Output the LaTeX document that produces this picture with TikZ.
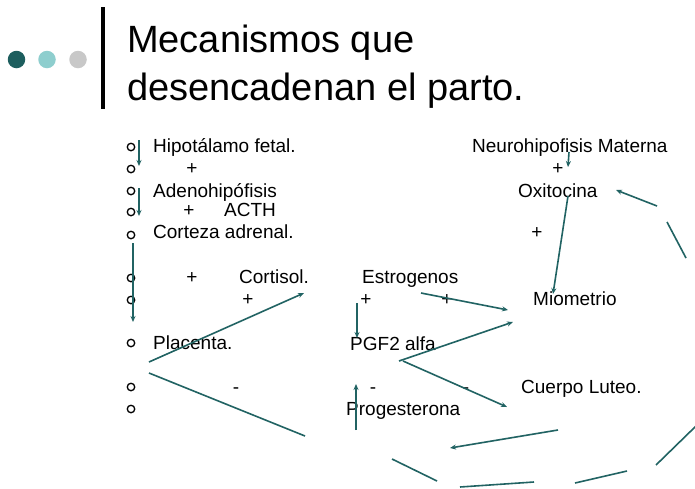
\documentclass[tikz,border=0pt]{standalone}
\usepackage{fontspec}
\setmainfont{Liberation Sans}
\usetikzlibrary{arrows.meta}
\definecolor{darkteal}{HTML}{1D5E5E}
\definecolor{lightteal}{HTML}{8ECECE}
\definecolor{lightgrey}{HTML}{C8C8C8}
\definecolor{linkc}{HTML}{216363}
\begin{document}
\begin{tikzpicture}[x=1pt,y=-1pt,
  body/.style={anchor=base west, inner sep=0pt, font=\fontsize{19}{22}\selectfont},
  sign/.style={anchor=base, inner sep=0pt, font=\fontsize{19}{22}\selectfont},
  titletext/.style={anchor=base west, inner sep=0pt, font=\fontsize{38}{44}\selectfont},
  bulletmark/.style={circle, draw=black, line width=1.3pt, minimum size=7.5pt, inner sep=0pt},
  link/.style={draw=linkc, line width=1.6pt, -{Stealth[length=6pt,width=5pt]}},
  plainlink/.style={draw=linkc, line width=1.6pt},
  dot/.style={circle, minimum size=17.5pt, inner sep=0pt}
]
\useasboundingbox[fill=white] (0,0) rectangle (695,488);

% header
\node[dot, fill=darkteal] (d1) at (16.5,59.5) {};
\node[dot, fill=lightteal] (d2) at (47,59.5) {};
\node[dot, fill=lightgrey] (d3) at (78,59.5) {};
\coordinate (bartop) at (103,7);
\coordinate (barbot) at (103,109);
\draw[line width=3.2pt, black] (bartop) -- (barbot);
\node[titletext] (t1) at (127,52) {Mecanismos que};
\node[titletext] (t2) at (127,100) {desencadenan el parto.};

% bullets
\foreach \yy [count=\i] in {147,169,191,212,235,278,300,343,387,409}
  \node[bulletmark] (b\i) at (131,\yy) {};

% left column text
\node[body] (hipo) at (153,152) {Hipotálamo fetal.};
\node[sign] (p1) at (192,174) {+};
\node[body] (adeno) at (153,197) {Adenohipófisis};
\node[sign] (p2) at (189,216) {+};
\node[body] (acth) at (224,216) {ACTH};
\node[body] (corteza) at (153,238) {Corteza adrenal.};
\node[sign] (p3) at (192,283) {+};
\node[body] (cortisol) at (239,283) {Cortisol.};
\node[sign] (p4) at (248,305) {+};
\node[body] (placenta) at (153,349) {Placenta.};
\node[sign] (m1) at (236,393) {-};

% middle column
\node[body] (estro) at (362,283) {Estrogenos};
\node[sign] (p5) at (366,305) {+};
\node[sign] (p6) at (447,305) {+};
\node[body] (pgf) at (350,350) {PGF2 alfa};
\node[sign] (m2) at (373,393) {-};
\node[sign] (m3) at (466,393) {-};
\node[body] (proges) at (346,415) {Progesterona};

% right column
\node[body] (neuro) at (472,152) {Neurohipofisis Materna};
\node[sign] (p7) at (558,174) {+};
\node[body] (oxi) at (518,197) {Oxitocina};
\node[sign] (p8) at (537,238) {+};
\node[body] (mio) at (533,305) {Miometrio};
\node[body] (luteo) at (521,393) {Cuerpo Luteo.};

% connector end points
\coordinate (a1s) at (139,140); \coordinate (a1e) at (139,166);
\coordinate (a2s) at (139,188); \coordinate (a2e) at (139,216);
\coordinate (a3s) at (133,243); \coordinate (a3e) at (133,322);
\coordinate (a4s) at (149,362); \coordinate (a4e) at (304,293);
\coordinate (l5s) at (149,373); \coordinate (l5e) at (305,436);
\coordinate (a6s) at (357,303); \coordinate (a6e) at (357,338);
\coordinate (a7s) at (356,430); \coordinate (a7e) at (356,384);
\coordinate (a8s) at (421,293); \coordinate (a8e) at (508,310);
\coordinate (a9s) at (399,361); \coordinate (a9e) at (513,322);
\coordinate (a10s) at (403,361); \coordinate (a10e) at (507,407);
\coordinate (a11s) at (569,152); \coordinate (a11e) at (568,167);
\coordinate (a12s) at (568,196); \coordinate (a12e) at (553,294);
\coordinate (a13s) at (657,206); \coordinate (a13e) at (616,190);
\coordinate (c1s) at (667,222); \coordinate (c1e) at (686,258);
\coordinate (c3s) at (696,426); \coordinate (c3e) at (656,465);
\coordinate (c4s) at (627,471); \coordinate (c4e) at (575,483);
\coordinate (c5s) at (534,482); \coordinate (c5e) at (460,487);
\coordinate (c6s) at (437,481); \coordinate (c6e) at (392,459);
\coordinate (a14s) at (558,430); \coordinate (a14e) at (450,448);

% arrows
\draw[link] (a1s) -- (a1e);
\draw[link] (a2s) -- (a2e);
\draw[link] (a3s) -- (a3e);
\draw[link] (a4s) -- (a4e);
\draw[plainlink] (l5s) -- (l5e);
\draw[link] (a6s) -- (a6e);
\draw[link] (a7s) -- (a7e);
\draw[link] (a8s) -- (a8e);
\draw[link] (a9s) -- (a9e);
\draw[link] (a10s) -- (a10e);
\draw[link] (a11s) -- (a11e);
\draw[link] (a12s) -- (a12e);
\draw[link] (a13s) -- (a13e);
\draw[plainlink] (c1s) -- (c1e);
\draw[plainlink] (c3s) -- (c3e);
\draw[plainlink] (c4s) -- (c4e);
\draw[plainlink] (c5s) -- (c5e);
\draw[plainlink] (c6s) -- (c6e);
\draw[link] (a14s) -- (a14e);
\end{tikzpicture}
\end{document}
